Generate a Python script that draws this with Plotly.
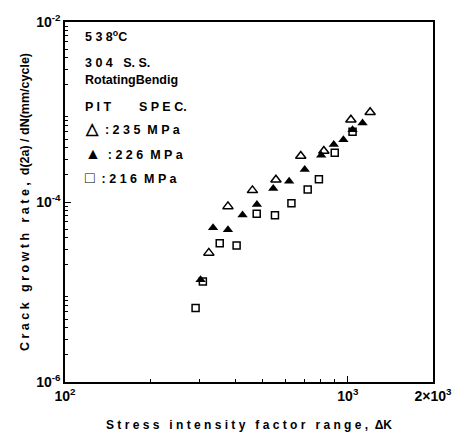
import plotly.graph_objects as go

# Data (ΔK, da/dN)
k235 = [322.5, 376.8, 459.9, 556.8, 681.6, 822.5, 1025, 1199]
r235 = [2.72e-5, 8.94e-5, 1.347e-4, 1.77e-4, 3.25e-4, 3.68e-4, 8.21e-4, 9.94e-4]

k226 = [301.5, 333.8, 376.8, 424.3, 476.9, 544.8, 620.0, 703.9, 804.9, 891.6, 964.3, 1039, 1127]
r226 = [1.366e-5, 5.18e-5, 4.93e-5, 7.15e-5, 9.40e-5, 1.416e-4, 1.705e-4, 2.30e-4,
        3.31e-4, 4.35e-4, 4.92e-4, 6.36e-4, 7.56e-4]

k216 = [289.5, 307.2, 352.4, 404.3, 476.2, 552.4, 631.7, 721.1, 790.1, 898.8, 1039]
r216 = [6.65e-6, 1.306e-5, 3.48e-5, 3.29e-5, 7.42e-5, 7.12e-5, 9.68e-5, 1.38e-4,
        1.79e-4, 3.53e-4, 6.05e-4]

xtick_vals = [100, 1000, 2000]
xtick_text = ["10<sup>2</sup>", "10<sup>3</sup>", "2×10<sup>3</sup>"]
ytick_vals = [1e-6, 1e-4, 1e-2]
ytick_text = ["10<sup>-6</sup>", "10<sup>-4</sup>", "10<sup>-2</sup>"]

FONT = "Liberation Sans"

fig = go.Figure()
fig.add_trace(go.Scatter(x=k235, y=r235, mode="markers", name="235 MPa",
                         marker=dict(symbol="triangle-up-open", size=9, color="black",
                                     line=dict(width=1.5, color="black"))))
fig.add_trace(go.Scatter(x=k226, y=r226, mode="markers", name="226 MPa",
                         marker=dict(symbol="triangle-up", size=9, color="black")))
fig.add_trace(go.Scatter(x=k216, y=r216, mode="markers", name="216 MPa",
                         marker=dict(symbol="square-open", size=7, color="black",
                                     line=dict(width=1.5, color="black"))))

minor_x = [v * m for v in (100, 1000) for m in range(2, 10) if v * m < 2000]
minor_y = [10.0 ** e * m for e in range(-6, -2) for m in range(2, 10)]

fig.update_layout(
    width=464, height=442,
    margin=dict(l=65, r=28, t=12, b=59),
    paper_bgcolor="white", plot_bgcolor="white",
    showlegend=False,
    font=dict(family=FONT, color="black", size=13),
    xaxis=dict(type="log", range=[2, 3.30103], tickmode="array",
               tickvals=xtick_vals, ticktext=xtick_text,
               ticks="inside", ticklen=6, tickwidth=1.2, tickcolor="black",
               minor=dict(tickmode="array", tickvals=minor_x, ticks="inside",
                          ticklen=3, tickcolor="black", showgrid=False),
               showline=True, linecolor="black", linewidth=1.5, mirror=True,
               showgrid=False, zeroline=False,
               tickfont=dict(family=FONT, size=14, color="black", weight="bold"),
               title=dict(text="S t r e s s   i n t e n s i t y   f a c t o r   r a n g e ,  ΔK",
                          font=dict(family=FONT, size=12, color="black", weight="bold"),
                          standoff=18)),
    yaxis=dict(type="log", range=[-6, -2], tickmode="array",
               tickvals=ytick_vals, ticktext=ytick_text,
               ticks="inside", ticklen=6, tickwidth=1.2, tickcolor="black",
               minor=dict(tickmode="array", tickvals=minor_y, ticks="inside",
                          ticklen=3, tickcolor="black", showgrid=False),
               showline=True, linecolor="black", linewidth=1.5, mirror=True,
               showgrid=False, zeroline=False,
               tickfont=dict(family=FONT, size=14, color="black", weight="bold"),
               title=dict(text="C r a c k   g r o w t h   r a t e ,  d(2a) / dN(mm/cycle)",
                          font=dict(family=FONT, size=12.5, color="black", weight="bold"),
                          standoff=4)),
)

labels = [
    ("5 3 8<sup>o</sup>C", 0.962),
    ("3 0 4   S. S.", 0.886),
    ("RotatingBendig", 0.840),
    ("P I T        S P E C.", 0.765),
    ("<span style='font-size:16px'>△</span>  : 2 3 5  M P a", 0.703),
    ("<span style='font-size:16px'>▲</span>  : 2 2 6  M P a", 0.635),
    ("<span style='font-size:16px'>□</span>  : 2 1 6  M P a", 0.569),
]
for txt, yy in labels:
    fig.add_annotation(text=txt, x=0.05, y=yy, xref="paper", yref="paper",
                       xanchor="left", yanchor="middle", showarrow=False,
                       font=dict(family=FONT, size=12.5, color="black", weight="bold"))

fig.write_html("out.html")
